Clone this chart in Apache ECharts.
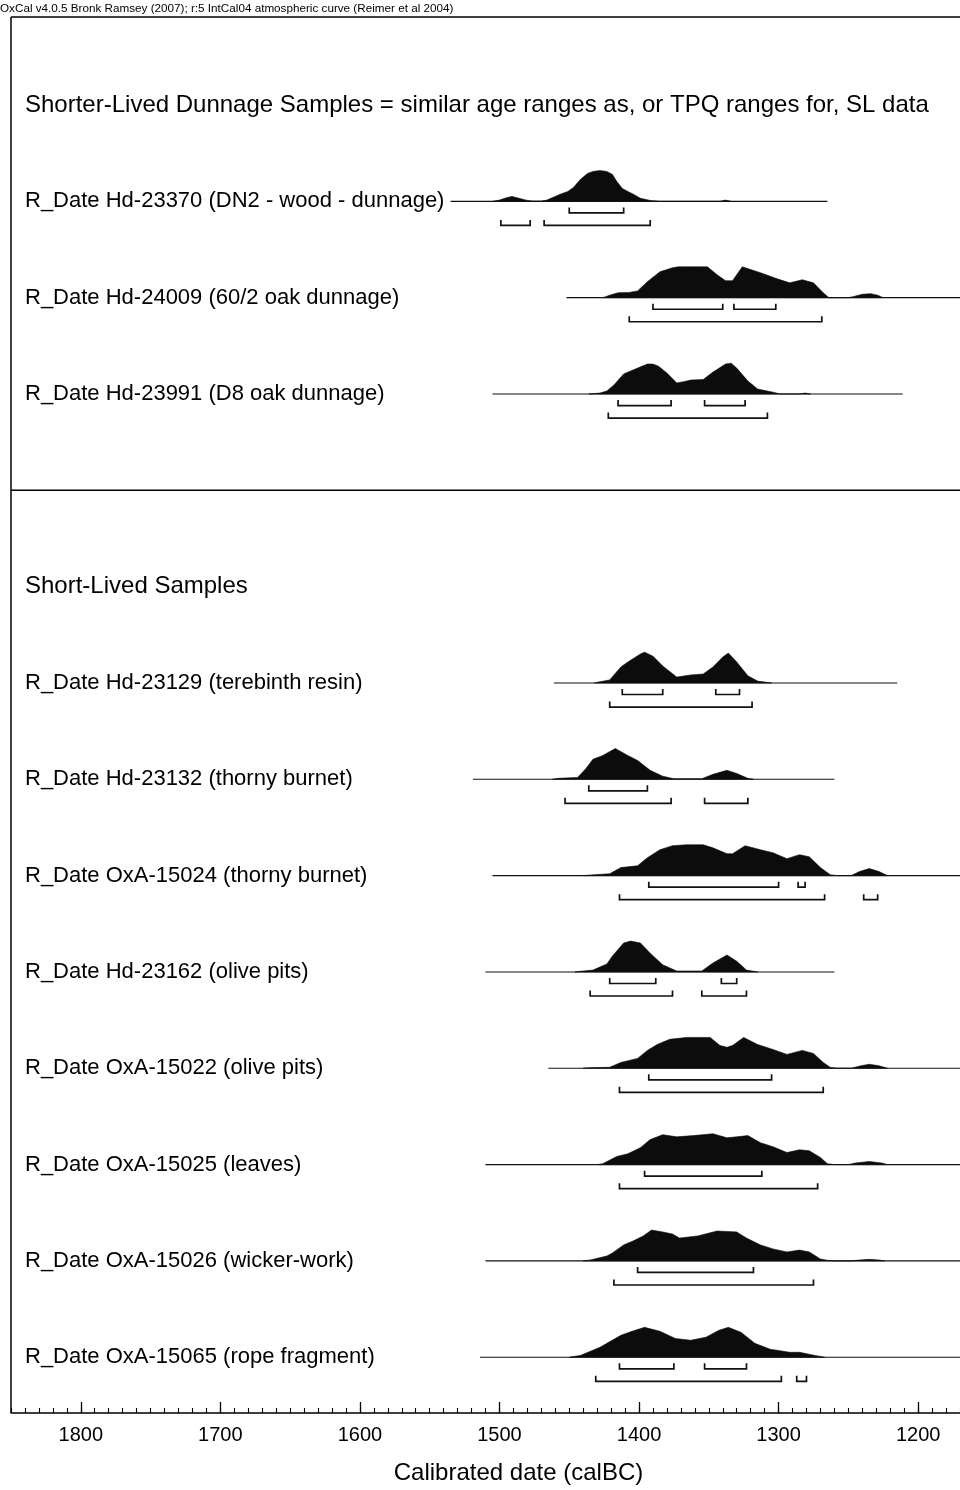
<!DOCTYPE html>
<html>
<head>
<meta charset="utf-8">
<title>Calibrated radiocarbon dates</title>
<script src="https://cdn.jsdelivr.net/npm/echarts@6/dist/echarts.min.js"></script>
<style>
  html, body { margin: 0; padding: 0; background: #fff; }
  #chart { width: 960px; height: 1490px; }
</style>
</head>
<body>
<div id="chart"></div>
<script>
// ---- text ----
const headerNote = 'OxCal v4.0.5 Bronk Ramsey (2007); r:5 IntCal04 atmospheric curve (Reimer et al 2004)';
const groupTitles = [
  'Shorter-Lived Dunnage Samples = similar age ranges as, or TPQ ranges for, SL data',
  'Short-Lived Samples'
];
const groupRows = [0, 5];
const dividerRow = 4;

const sampleLabels = [
  'R_Date Hd-23370 (DN2 - wood - dunnage)',
  'R_Date Hd-24009 (60/2 oak dunnage)',
  'R_Date Hd-23991 (D8 oak dunnage)',
  'R_Date Hd-23129 (terebinth resin)',
  'R_Date Hd-23132 (thorny burnet)',
  'R_Date OxA-15024 (thorny burnet)',
  'R_Date Hd-23162 (olive pits)',
  'R_Date OxA-15022 (olive pits)',
  'R_Date OxA-15025 (leaves)',
  'R_Date OxA-15026 (wicker-work)',
  'R_Date OxA-15065 (rope fragment)'
];
const sampleRows = [1, 2, 3, 6, 7, 8, 9, 10, 11, 12, 13];

// ---- calibrated probability, [year calBC, % of peak] ----
const probHd23370 = [[1505,0],[1500,4],[1495,12],[1491,16],[1486,10],[1480,3],[1476,1],[1470,1],[1466,4],[1461,14],[1456,24],[1451,32],[1447,45],[1442,71],[1437,90],[1433,97],[1428,100],[1423,97],[1419,87],[1416,65],[1412,42],[1408,32],[1404,23],[1399,10],[1392,3],[1385,0],[1342,0],[1338,4],[1334,0]];
const probHd24009 = [[1426,0],[1421,8],[1415,16],[1407,17],[1401,22],[1394,52],[1385,84],[1376,97],[1372,100],[1362,100],[1351,100],[1344,74],[1338,55],[1333,55],[1326,100],[1313,81],[1301,61],[1292,48],[1283,58],[1275,48],[1268,16],[1264,0],[1250,0],[1246,4],[1240,11],[1234,13],[1229,8],[1225,0]];
const probHd23991 = [[1436,0],[1428,3],[1423,10],[1418,29],[1411,65],[1401,84],[1394,97],[1390,97],[1386,90],[1380,68],[1373,36],[1368,40],[1363,45],[1354,47],[1347,71],[1338,97],[1334,100],[1330,84],[1322,42],[1315,16],[1304,6],[1299,0],[1285,0],[1281,3],[1277,0]];
const probHd23129 = [[1432,0],[1429,3],[1421,10],[1413,52],[1408,68],[1399,94],[1396,100],[1390,87],[1383,55],[1373,19],[1363,26],[1354,29],[1347,52],[1340,84],[1336,97],[1330,68],[1322,23],[1315,6],[1305,0]];
const probHd23132 = [[1462,0],[1458,3],[1444,6],[1438,35],[1433,65],[1426,77],[1417,100],[1408,77],[1401,61],[1392,29],[1383,10],[1375,2],[1355,2],[1347,16],[1337,29],[1330,19],[1322,3],[1318,0]];
const probOxA15024 = [[1440,0],[1435,2],[1421,6],[1413,26],[1401,32],[1394,58],[1385,84],[1376,97],[1366,100],[1354,100],[1347,90],[1337,71],[1333,71],[1324,97],[1313,84],[1304,74],[1294,55],[1285,68],[1278,61],[1270,26],[1263,3],[1258,0],[1248,0],[1242,13],[1235,23],[1228,13],[1222,0]];
const probHd23162 = [[1446,0],[1442,2],[1433,6],[1423,26],[1419,52],[1411,94],[1406,100],[1399,94],[1392,61],[1383,23],[1373,3],[1355,3],[1347,29],[1337,55],[1330,35],[1323,6],[1315,0]];
const probOxA15022 = [[1440,0],[1435,2],[1421,3],[1413,19],[1401,32],[1394,58],[1387,77],[1378,94],[1366,100],[1349,100],[1342,74],[1337,68],[1333,74],[1325,100],[1315,77],[1304,61],[1294,45],[1283,58],[1275,48],[1268,19],[1263,3],[1258,0],[1248,0],[1241,8],[1235,13],[1228,8],[1222,0]];
const probOxA15025 = [[1430,0],[1426,3],[1416,26],[1408,35],[1399,55],[1392,81],[1383,97],[1373,90],[1361,94],[1347,100],[1337,87],[1330,90],[1322,94],[1313,71],[1304,58],[1294,39],[1285,48],[1278,45],[1270,23],[1265,3],[1260,0],[1250,0],[1245,5],[1235,10],[1226,5],[1222,0]];
const probOxA15026 = [[1440,0],[1435,3],[1423,16],[1419,26],[1411,52],[1404,65],[1397,81],[1391,100],[1383,94],[1376,87],[1371,74],[1358,81],[1344,97],[1330,94],[1323,74],[1313,52],[1304,39],[1294,29],[1285,35],[1278,29],[1270,6],[1265,2],[1260,0],[1248,0],[1242,3],[1235,5],[1228,3],[1224,0]];
const probOxA15065 = [[1450,0],[1442,6],[1428,32],[1413,71],[1405,84],[1396,97],[1385,84],[1374,61],[1363,55],[1352,65],[1343,87],[1336,97],[1327,81],[1317,45],[1306,26],[1292,16],[1285,16],[1274,6],[1267,0]];

const sampleProbs = [probHd23370, probHd24009, probHd23991, probHd23129, probHd23132,
  probOxA15024, probHd23162, probOxA15022, probOxA15025, probOxA15026, probOxA15065];

// extent of each calibrated curve (calBC)
const sampleSpans = [[1535,1265],[1452,1120],[1505,1211],[1461,1215],[1519,1260],[1505,1120],
  [1510,1260],[1465,1120],[1510,1120],[1510,1120],[1514,1120]];

// 68.2% and 95.4% highest probability ranges (calBC)
const ranges68 = [
  [[1450,1411]],
  [[1390,1340],[1332,1302]],
  [[1415,1377],[1353,1324]],
  [[1412,1383],[1345,1328]],
  [[1436,1394]],
  [[1393,1300],[1286,1281]],
  [[1421,1388],[1341,1330]],
  [[1393,1305]],
  [[1396,1312]],
  [[1401,1318]],
  [[1414,1375],[1353,1323]]
];
const ranges95 = [
  [[1499,1478],[1468,1392]],
  [[1407,1269]],
  [[1422,1308]],
  [[1421,1319]],
  [[1453,1377],[1353,1322]],
  [[1414,1267],[1239,1229]],
  [[1435,1376],[1355,1323]],
  [[1414,1268]],
  [[1414,1272]],
  [[1418,1275]],
  [[1431,1298],[1287,1280]]
];

// ---- axis ----
const yearLabels = [1800, 1700, 1600, 1500, 1400, 1300, 1200];
const axisMin = 1170, axisMax = 1850;
const minorYears = [];
for (let y = 1170; y <= 1850; y += 10) minorYears.push(y);

const FONT = '"Liberation Sans", Arial, Helvetica, sans-serif';
const INK = '#000';

function renderSample(params, api) {
  const i = params.dataIndex;
  const row = api.value(1);
  const rowPx = api.size([0, 1])[1];
  const peakPx = rowPx * 0.32;
  const at = (yr, dy) => { const c = api.coord([yr, row]); return [c[0], c[1] + dy]; };
  const prob = sampleProbs[i];
  const pts = prob.map(d => at(d[0], -d[1] / 100 * peakPx));
  pts.unshift(at(prob[0][0], 0));
  pts.push(at(prob[prob.length - 1][0], 0));

  const children = [{
    type: 'polygon', shape: { points: pts },
    style: { fill: '#0c0c0c', stroke: '#0c0c0c', lineWidth: 0.6 }
  }];

  const span = sampleSpans[i];
  const a = at(span[0], 0), b = at(span[1], 0);
  children.push({
    type: 'line', shape: { x1: a[0], y1: a[1], x2: b[0], y2: b[1] },
    style: { stroke: '#111', lineWidth: 1.1 }
  });

  const bracket = (r, dy) => {
    const p = at(r[0], dy), q = at(r[1], dy);
    return {
      type: 'polyline',
      shape: { points: [[p[0], p[1] - 5.5], [p[0], p[1]], [q[0], q[1]], [q[0], q[1] - 5.5]] },
      style: { stroke: '#111', lineWidth: 1.7, fill: null }
    };
  };
  ranges68[i].forEach(r => children.push(bracket(r, rowPx * 0.12)));
  ranges95[i].forEach(r => children.push(bracket(r, rowPx * 0.25)));

  children.push({
    type: 'text',
    style: { text: sampleLabels[i], x: 25, y: a[1], font: '22px ' + FONT, fill: INK,
             align: 'left', verticalAlign: 'middle' }
  });
  return { type: 'group', children };
}

function renderTitle(params, api) {
  const c = api.coord([axisMax, api.value(1)]);
  return {
    type: 'text',
    style: { text: groupTitles[params.dataIndex], x: 25, y: c[1], font: '24px ' + FONT,
             fill: INK, align: 'left', verticalAlign: 'middle' }
  };
}

// section divider plus the top and left edges of the plot frame
function renderFrame(params, api) {
  const cs = params.coordSys;
  const c = api.coord([axisMax, api.value(1)]);
  const st = { stroke: INK, lineWidth: 1.5 };
  return {
    type: 'group',
    children: [
      { type: 'line', shape: { x1: cs.x, y1: c[1], x2: cs.x + cs.width, y2: c[1] }, style: st },
      { type: 'line', shape: { x1: cs.x, y1: cs.y, x2: cs.x + cs.width, y2: cs.y }, style: st },
      { type: 'line', shape: { x1: cs.x, y1: cs.y, x2: cs.x, y2: cs.y + cs.height }, style: st }
    ]
  };
}

const chart = echarts.init(document.getElementById('chart'), null, { renderer: 'canvas' });
chart.setOption({
  animation: false,
  backgroundColor: '#fff',
  textStyle: { fontFamily: FONT },
  grid: { left: 11, right: 0, top: 17, bottom: 67, show: false },
  graphic: [{
    type: 'text', left: 0, top: 3,
    style: { text: headerNote, font: '11.7px ' + FONT, fill: INK }
  }],
  xAxis: [{
    type: 'value', min: axisMin, max: axisMax, inverse: true, position: 'bottom',
    name: 'Calibrated date (calBC)', nameLocation: 'middle', nameGap: 48,
    nameTextStyle: { fontSize: 24, color: INK, fontFamily: FONT, padding: [0, 0, 0, 66] },
    axisLine: { show: true, onZero: false, lineStyle: { color: INK, width: 1.5 } },
    axisTick: { show: true, inside: true, length: 11, customValues: yearLabels, lineStyle: { color: INK, width: 1.3 } },
    axisLabel: { show: true, customValues: yearLabels, margin: 12, fontSize: 20, color: INK, fontFamily: FONT,
                 formatter: v => String(v) },
    splitLine: { show: false }
  }, {
    type: 'value', min: axisMin, max: axisMax, inverse: true, position: 'bottom',
    axisLine: { show: false, onZero: false },
    axisTick: { show: true, inside: true, length: 5, customValues: minorYears, lineStyle: { color: INK, width: 1.1 } },
    axisLabel: { show: false },
    splitLine: { show: false }
  }],
  yAxis: { type: 'value', min: -0.9138, max: 13.579, inverse: true, show: false },
  series: [{
    type: 'custom', name: 'samples', xAxisIndex: 0, renderItem: renderSample,
    data: sampleRows.map((r, i) => [sampleSpans[i][0], r])
  }, {
    type: 'custom', name: 'groups', xAxisIndex: 0, renderItem: renderTitle,
    data: groupRows.map(r => [axisMax, r])
  }, {
    type: 'custom', name: 'frame', xAxisIndex: 0, renderItem: renderFrame,
    data: [[axisMax, dividerRow]]
  }]
});
</script>
</body>
</html>
